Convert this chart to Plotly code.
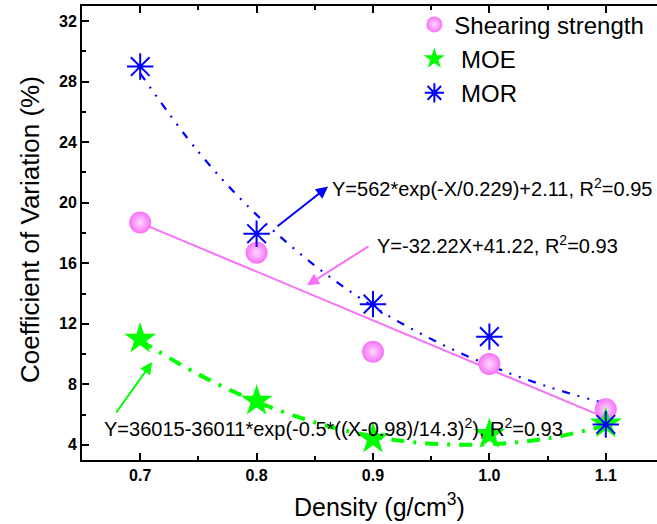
import plotly.graph_objects as go

# ---- data ----
density = [0.7, 0.8, 0.9, 1.0, 1.1]
shearing_cv = [18.7, 16.7, 10.15, 9.35, 6.35]
moe_cv = [11.0, 6.9, 4.4, 4.7, 5.4]
mor_cv = [29.0, 17.95, 13.3, 11.15, 5.35]

# fitted curves, values of the printed equations at sampled densities
fit_x = [0.70, 0.75, 0.80, 0.85, 0.90, 0.95, 1.00, 1.05, 1.10]
shearing_fit = [18.67, 17.06, 15.44, 13.83, 12.22, 10.61, 9.00, 7.39, 5.78]
mor_fit = [28.55, 23.36, 19.20, 15.85, 13.15, 10.99, 9.25, 7.85, 6.72]
moe_fit = [10.90, 8.66, 6.85, 5.49, 4.56, 4.08, 4.04, 4.43, 5.27]

x_tick_vals = [0.7, 0.8, 0.9, 1.0, 1.1]
x_tick_text = ["0.7", "0.8", "0.9", "1.0", "1.1"]
y_tick_vals = [4, 8, 12, 16, 20, 24, 28, 32]
y_tick_text = ["4", "8", "12", "16", "20", "24", "28", "32"]

series_names = ["Shearing strength", "\u00a0MOE", "\u00a0MOR"]
eq_mor = "Y=562*exp(-X/0.229)+2.11, R<sup>2</sup>=0.95"
eq_shear = "Y=-32.22X+41.22, R<sup>2</sup>=0.93"
eq_moe = "Y=36015-36011*exp(-0.5*((X-0.98)/14.3)<sup>2</sup>), R<sup>2</sup>=0.93"

PINK = "#f870f8"
GREEN = "#00ff00"
BLUE = "#0000ff"
FONT = "Arial, Liberation Sans, sans-serif"

fig = go.Figure()

# fit lines
fig.add_trace(go.Scatter(x=fit_x, y=shearing_fit, mode="lines", showlegend=False,
                         line=dict(color=PINK, width=2), hoverinfo="skip"))
fig.add_trace(go.Scatter(x=fit_x, y=mor_fit, mode="lines", showlegend=False, line_shape="spline",
                         line=dict(color=BLUE, width=2.2, dash="8px,8px,2px,8px,2px,8px"),
                         hoverinfo="skip"))
fig.add_trace(go.Scatter(x=fit_x, y=moe_fit, mode="lines", showlegend=False, line_shape="spline",
                         line=dict(color=GREEN, width=4, dash="13px,9px,3px,9px"),
                         hoverinfo="skip"))

# data markers
fig.add_trace(go.Scatter(x=density, y=shearing_cv, mode="markers", name=series_names[0],
                         marker=dict(symbol="circle", size=22, color=PINK,
                                     gradient=dict(type="radial", color="#ffd8ff"),
                                     line=dict(width=0))))
fig.add_trace(go.Scatter(x=density, y=moe_cv, mode="markers", name=series_names[1],
                         marker=dict(symbol="star", size=24, color=GREEN,
                                     line=dict(width=0))))
fig.add_trace(go.Scatter(x=density, y=mor_cv, mode="markers", name=series_names[2],
                         marker=dict(symbol="asterisk-open", size=22, color=BLUE,
                                     line=dict(width=2, color=BLUE))))

annotations = [
    # equations with arrows
    dict(x=0.8614, y=21.07, ax=0.8167, ay=18.37, xref="x", yref="y", axref="x", ayref="y",
         showarrow=True, arrowhead=2, arrowsize=1.2, arrowwidth=2, arrowcolor=BLUE, text=""),
    dict(x=0.8631, y=21.0, xref="x", yref="y", text=eq_mor, showarrow=False,
         xanchor="left", yanchor="middle", font=dict(family=FONT, size=20, color="black")),
    dict(x=0.8433, y=14.54, ax=0.8974, ay=17.18, xref="x", yref="y", axref="x", ayref="y",
         showarrow=True, arrowhead=2, arrowsize=1.2, arrowwidth=2, arrowcolor=PINK, text=""),
    dict(x=0.9017, y=17.25, xref="x", yref="y", text=eq_shear, showarrow=False,
         xanchor="left", yanchor="middle", font=dict(family=FONT, size=20, color="black")),
    dict(x=0.7103, y=9.47, ax=0.6785, ay=6.04, xref="x", yref="y", axref="x", ayref="y",
         showarrow=True, arrowhead=2, arrowsize=1.2, arrowwidth=2, arrowcolor=GREEN, text=""),
    dict(x=0.6674, y=5.17, xref="x", yref="y", text=eq_moe, showarrow=False,
         xanchor="left", yanchor="middle", font=dict(family=FONT, size=20, color="black")),
    # axis titles
    dict(x=-0.0904, y=0.5066, xref="paper", yref="paper", text="Coefficient of Variation (%)",
         textangle=-90, showarrow=False, xanchor="center", yanchor="middle",
         font=dict(family=FONT, size=26, color="black")),
    dict(x=0.518, y=-0.1, xref="paper", yref="paper", text="Density (g/cm<sup>3</sup>)",
         showarrow=False, xanchor="center", yanchor="middle",
         font=dict(family=FONT, size=25, color="black")),
]

fig.update_layout(
    width=657, height=524,
    margin=dict(l=82, r=0, t=6, b=64),
    plot_bgcolor="white", paper_bgcolor="white",
    font=dict(family=FONT, color="black"),
    showlegend=True,
    legend=dict(x=0.578, y=1.008, xanchor="left", yanchor="top", bgcolor="rgba(0,0,0,0)",
                font=dict(family=FONT, size=24, color="black"), itemsizing="trace",
                borderwidth=0),
    annotations=annotations,
)

fig.update_xaxes(
    range=[0.65, 1.144], showgrid=False, zeroline=False,
    showline=True, linecolor="black", linewidth=2, mirror="ticks",
    ticks="inside", ticklen=7, tickwidth=2, tickcolor="black",
    tickvals=x_tick_vals, ticktext=x_tick_text,
    tickfont=dict(family=FONT, size=16, color="black", weight="bold"),
    minor=dict(ticks="inside", ticklen=4, tickwidth=2, tickcolor="black", dtick=0.05, tick0=0.65),
)
fig.update_yaxes(
    range=[3, 33], showgrid=False, zeroline=False,
    showline=True, linecolor="black", linewidth=2, mirror=False,
    ticks="inside", ticklen=7, tickwidth=2, tickcolor="black",
    tickvals=y_tick_vals, ticktext=y_tick_text,
    tickfont=dict(family=FONT, size=16, color="black", weight="bold"),
    minor=dict(ticks="inside", ticklen=4, tickwidth=2, tickcolor="black", dtick=2, tick0=0),
)

fig.write_html("out.html", config={"displayModeBar": False},
               post_script="document.body.style.margin='0';document.body.style.overflow='hidden';")
